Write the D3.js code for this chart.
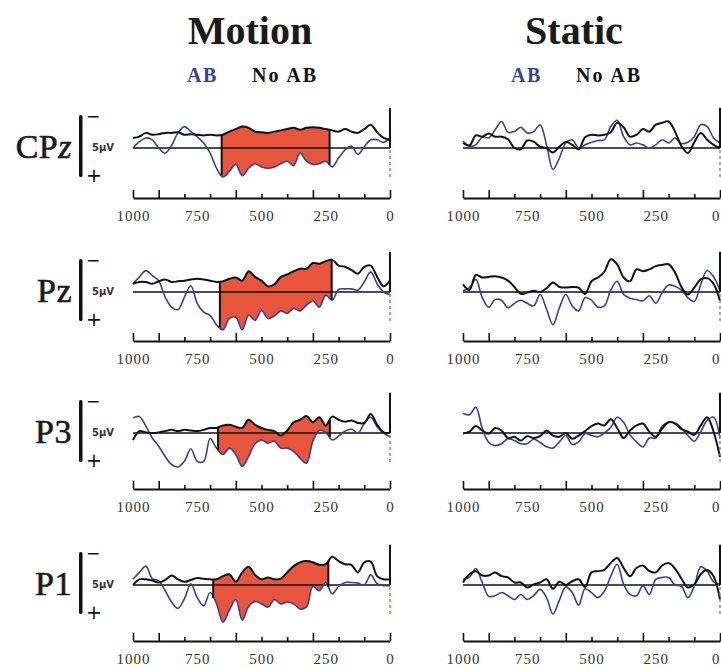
<!DOCTYPE html>
<html>
<head>
<meta charset="utf-8">
<script src="https://cdn.jsdelivr.net/npm/d3@7"></script>
<style>
  body { margin: 0; background: #fff; }
  svg { display: block; }
</style>
</head>
<body>
<div id="chart"></div>
<script>

// sample times in ms before the event, every 25 ms
var sampleTimes = d3.range(1000, -1, -25);

var conditions = ["Motion", "Static"];
var electrodes = ["CPz", "Pz", "P3", "P1"];
var legendLabels = ["AB", "No AB"];
var tickLabels = [1000, 750, 500, 250, 0];
var tickMarks = [1000, 900, 800, 700, 600, 500, 400, 300, 200, 100, 0];
var majorTicks = [1000, 900, 600, 300, 0];

// amplitudes in microvolts (negative plotted up)
var motionCPzAB   = [0, -0.5, -0.8, -0.65, 0, 0.4, -0.2, -1.2, -1.7, -1.3, -0.9, -0.4, 0.4, 1.6, 2.3, 1.85, 1.3, 2.2, 1.6, 1.25, 1.5, 1.6, 1.5, 1.25, 1.05, 1.4, 0.4, 1.05, 1.3, 1.25, 1.05, 1.5, 0.8, 0.15, -0.15, 0.5, -0.1, -0.65, -0.65, -0.45, -0.8];
var motionCPzNoAB = [-0.8, -0.9, -1.2, -1.05, -1.1, -1.2, -1.2, -1.25, -1.05, -1.1, -1.05, -1.0, -1.05, -1.0, -1.05, -1.3, -1.5, -1.7, -1.6, -1.3, -1.25, -1.2, -1.3, -1.4, -1.5, -1.6, -1.45, -1.6, -1.65, -1.6, -1.5, -1.4, -1.3, -1.5, -1.3, -1.2, -1.5, -1.85, -1.25, -0.8, -0.65];
var motionPzAB    = [-0.65, -1.2, -1.7, -1.3, -0.9, 0.4, 1.2, 1.4, 0.4, -0.5, 0.9, 1.6, 1.85, 2.6, 3.0, 2.1, 2.0, 3.0, 1.85, 2.25, 1.45, 2.1, 1.9, 1.5, 1.7, 1.3, 1.5, 1.05, 0.7, 1.2, 0.25, 0.65, -0.2, -0.25, -0.25, -0.15, -0.8, -1.6, -0.65, 0, 0.2];
var motionPzNoAB  = [-0.65, -0.8, -0.8, -0.65, -0.85, -1.0, -0.8, -0.85, -0.9, -1.0, -1.05, -1.0, -0.9, -0.8, -0.85, -1.05, -1.15, -0.9, -1.65, -1.2, -0.9, -0.45, -0.6, -1.2, -1.4, -1.65, -1.85, -1.85, -2.3, -2.25, -2.45, -2.55, -2.1, -2.0, -1.75, -1.45, -2.0, -2.1, -1.2, -0.45, -0.9];
var motionP3AB    = [-1.2, -1.3, -0.55, 0.4, 1.05, 1.85, 2.5, 2.7, 2.25, 1.25, 2.25, 2.25, 0.45, 1.2, 1.7, 1.2, 1.7, 2.65, 1.85, 0.85, 0.55, 0.8, 0.65, 1.2, 1.2, 1.45, 2.0, 2.4, 0.65, -0.2, -0.05, 0.55, 0.25, -0.15, -0.3, 0, -0.75, -1.25, -0.5, 0, 0.3];
var motionP3NoAB  = [0.55, -0.15, -0.05, 0, -0.05, -0.15, -0.25, -0.15, -0.25, -0.2, -0.15, -0.25, -0.4, -0.4, -0.6, -0.65, -0.5, -0.4, -1.05, -0.65, -0.4, -0.25, -0.15, 0.2, -0.2, -0.85, -1.05, -1.35, -0.85, -1.25, -0.6, -1.3, -1.05, -0.9, -1.0, -0.8, -0.8, -1.5, -0.65, -0.05, 0];
var motionP1AB    = [-0.45, -1.0, -1.5, -0.5, -0.35, 0.45, 1.35, 1.85, 1.1, -0.1, 1.0, 1.65, 0.6, 1.5, 2.95, 2.0, 1.15, 2.8, 1.7, 1.3, 1.5, 1.75, 1.15, 1.5, 1.35, 1.5, 1.9, 1.75, 0.1, 0.45, -0.2, 0.7, 0.1, -0.2, -0.2, -0.15, 0, -0.8, -0.1, 0.05, 0.05];
var motionP1NoAB  = [0, -0.45, -0.45, -0.35, -0.2, -0.4, -0.75, -0.45, -0.25, -0.4, -0.55, -0.5, -0.45, -0.45, -0.7, -0.85, -0.25, -1.0, -1.45, -0.8, -0.45, -0.6, -0.45, -0.5, -1.0, -1.5, -1.8, -1.9, -1.8, -1.6, -1.65, -2.25, -1.9, -1.65, -1.6, -1.0, -1.8, -1.85, -0.7, -0.45, -0.45];

var staticCPzAB   = [-0.55, -0.15, -0.25, -0.85, -0.8, -1.45, -2.1, -1.25, -1.3, -1.65, -1.2, -1.3, -1.85, -0.25, 1.7, 0.8, -0.4, -0.65, 0, -0.25, -0.45, -0.6, -0.65, -1.7, -2.2, -0.9, -0.25, -0.4, -0.25, 0, -0.25, -0.65, -0.4, -0.8, -0.35, -0.45, -0.9, -1.85, -1.7, -0.8, -0.4];
var staticCPzNoAB = [-0.4, -0.2, -1.0, -0.9, -1.15, -0.9, -0.9, -0.7, 0, 0.1, -0.6, -0.5, -0.1, 0, 0.35, -0.1, -0.5, -0.25, 0.1, -0.85, -1.05, -1.0, -1.05, -1.25, -2.0, -1.65, -0.9, -1.05, -1.5, -1.3, -1.85, -2.0, -2.1, -1.3, -0.15, 0.4, -0.45, -1.2, -0.65, -0.25, 0];
var staticPzAB    = [-0.1, -0.35, -1.0, 0.45, 1.2, 0.6, 0.65, 1.25, 0.9, 0.65, 0.9, 1.1, 0.2, 1.35, 2.6, 1.25, 0.2, 1.1, 1.5, 0.45, 0.65, 1.2, 1.1, -0.15, -0.85, 0.2, 0.5, 0.6, 0.7, 0.3, 0.9, 0.05, -0.55, -0.45, -0.15, 0.45, 0.75, -0.6, -1.7, -1.2, -0.1];
var staticPzNoAB  = [-0.6, -0.15, -1.35, -1.15, -1.2, -1.25, -1.15, -0.9, -0.4, 0.15, 0.05, -0.1, 0, -0.3, -0.75, -0.4, -0.35, -0.4, -0.35, 0.15, -0.85, -1.15, -1.6, -2.6, -2.2, -1.15, -0.85, -1.8, -1.65, -1.8, -2.05, -2.15, -2.2, -1.55, -0.4, 0.2, -0.35, -1.0, -1.1, -0.65, 0.7];
var staticP3AB    = [-1.55, -1.45, -2.05, -0.35, 0.75, 1.0, 0.85, 0.45, 0.6, 0.85, 0.85, 0.5, 0.75, 1.1, 1.2, 0.7, 0.2, 0.9, 0.7, 0.05, 0.2, 0.3, 0, -0.45, -1.25, -0.85, 0.15, 0.7, 1.1, 0.4, 0.4, -0.55, -0.85, -0.8, -0.4, 0.2, 0.65, -0.1, -1.0, -1.25, 0.45];
var staticP3NoAB  = [0.05, -0.1, -0.55, -0.2, 0.05, -0.4, -0.2, 0.4, 0.3, 0.6, 0.25, 0.4, 0.25, -0.2, 0.2, 0.3, 0, 0.45, 0.2, -0.15, -0.55, -0.75, -0.6, -1.1, -0.4, 0.4, -0.2, -0.6, -0.75, -0.1, 0.3, -0.35, -0.85, -0.75, -0.3, -0.1, 0.15, -0.6, -1.25, -0.1, 1.9];
var staticP1AB    = [-0.45, -0.6, -1.3, -0.2, 0.9, 0.85, 0.6, 0.85, 1.15, 0.75, 1.15, 0.85, 0.35, 1.0, 2.3, 1.2, 0.15, 0.6, 1.6, 0.3, 0.6, 1.0, 0.5, -0.7, -1.65, -0.05, 0.75, 0.85, 0.05, 0.75, -0.45, -0.6, -0.6, 0, 0.1, 1.0, 0.1, -1.45, -1.1, -0.25, -0.05];
var staticP1NoAB  = [-0.2, -0.85, -1.1, -0.75, -0.75, -1.0, -0.7, -0.6, -0.2, -0.2, 0.2, -0.05, -0.2, -0.45, 0.3, -0.25, 0, -0.3, -0.45, 0.15, -1.0, -1.1, -1.2, -1.75, -2.15, -1.35, -0.7, -1.35, -1.55, -1.1, -1.0, -1.55, -1.75, -1.3, -0.5, 0.2, -0.05, -0.85, -1.2, -0.7, 1.15];

// significant window (ms) shaded in the motion condition, one per electrode
var motionFillStart = [655, 662, 669, 688];
var motionFillEnd   = [235, 227, 234, 240];

var series = [
    [[motionCPzAB, motionCPzNoAB], [motionPzAB, motionPzNoAB], [motionP3AB, motionP3NoAB], [motionP1AB, motionP1NoAB]],
    [[staticCPzAB, staticCPzNoAB], [staticPzAB, staticPzNoAB], [staticP3AB, staticP3NoAB], [staticP1AB, staticP1NoAB]]
];

var width = 721, height = 668;
var blue = "#34429a";
var fillRed = "#e8553d";
var serif = "'Liberation Serif', 'Times New Roman', serif";

var colLeft = [133, 463];
var plotWidth = 257;
var titleX = [250, 574];
var rowZero = [148, 292, 433, 585];
var rowAxis = [198, 341, 489, 641];

var svg = d3.select("#chart")
    .append("svg")
    .attr("width", width)
    .attr("height", height);

var defs = svg.append("defs");

function valueAt(arr, t) {
    var k = (1000 - t) / 25;
    var i = Math.floor(k), f = k - i;
    var j = Math.min(i + 1, arr.length - 1);
    return arr[i] * (1 - f) + arr[j] * f;
}

// titles and legends
conditions.forEach(function(name, c) {
    svg.append("text")
        .attr("x", titleX[c])
        .attr("y", 44)
        .attr("text-anchor", "middle")
        .style("font-family", serif)
        .style("font-weight", "bold")
        .style("font-size", "40px")
        .style("fill", "#1a1a1a")
        .text(name);

    svg.append("text")
        .attr("x", titleX[c] - 63)
        .attr("y", 82)
        .style("font-family", serif)
        .style("font-weight", "bold")
        .style("font-size", "20px")
        .style("letter-spacing", "1.5px")
        .style("fill", blue)
        .text(legendLabels[0]);

    svg.append("text")
        .attr("x", titleX[c] + 2)
        .attr("y", 82)
        .style("font-family", serif)
        .style("font-weight", "bold")
        .style("font-size", "20px")
        .style("letter-spacing", "2px")
        .style("fill", "#111")
        .text(legendLabels[1]);
});

// electrode labels and scale bars
electrodes.forEach(function(name, r) {
    var y0 = rowZero[r];
    var lab = svg.append("text")
        .attr("x", 72)
        .attr("y", y0 + 10)
        .attr("text-anchor", "end")
        .style("font-family", serif)
        .style("font-size", "34px")
        .style("letter-spacing", "0.5px")
        .style("fill", "#1a1a1a")
        .style("stroke", "#1a1a1a")
        .style("stroke-width", 0.6);
    if (name === "CPz") {
        lab.append("tspan").text("CP");
        lab.append("tspan").style("font-style", "italic").text("z");
    } else {
        lab.text(name);
    }

    svg.append("rect")
        .attr("x", 79)
        .attr("y", y0 - 33)
        .attr("width", 3.5)
        .attr("height", 62)
        .attr("rx", 1.5)
        .attr("fill", "#111");

    svg.append("text")
        .attr("x", 86)
        .attr("y", y0 - 26)
        .style("font-family", "'DejaVu Sans', sans-serif")
        .style("font-size", "17px")
        .style("fill", "#111")
        .text("\u2212");

    svg.append("text")
        .attr("x", 86)
        .attr("y", y0 + 34)
        .style("font-family", "'DejaVu Sans', sans-serif")
        .style("font-size", "19px")
        .style("fill", "#111")
        .text("+");

    svg.append("text")
        .attr("x", 92)
        .attr("y", y0 + 3)
        .style("font-family", "'DejaVu Sans', sans-serif")
        .style("font-weight", "bold")
        .style("font-size", "10px")
        .style("fill", "#333")
        .text("5\u00b5V");
});

// panels
conditions.forEach(function(cond, c) {
    electrodes.forEach(function(el, r) {
        var ab = series[c][r][0];
        var noAb = series[c][r][1];

        var x = d3.scaleLinear()
            .domain([1000, 0])
            .range([colLeft[c], colLeft[c] + plotWidth]);

        var y = d3.scaleLinear()
            .domain([-2.5, 2.5])
            .range([rowZero[r] - 31.5, rowZero[r] + 31.5]);

        var curve = d3.curveCatmullRom.alpha(0.5);

        var line = d3.line()
            .x(function(d, i) { return x(sampleTimes[i]); })
            .y(function(d) { return y(d); })
            .curve(curve);

        var g = svg.append("g");

        if (c === 0) {
            var t0 = motionFillStart[r], t1 = motionFillEnd[r];
            var clipId = "clip-" + r;
            defs.append("clipPath").attr("id", clipId)
                .append("rect")
                .attr("x", x(t0))
                .attr("y", rowZero[r] - 60)
                .attr("width", x(t1) - x(t0))
                .attr("height", 120);

            var area = d3.area()
                .x(function(d, i) { return x(sampleTimes[i]); })
                .y0(function(d, i) { return y(noAb[i]); })
                .y1(function(d) { return y(d); })
                .curve(curve);

            g.append("path")
                .datum(ab)
                .attr("clip-path", "url(#" + clipId + ")")
                .attr("d", area)
                .attr("fill", fillRed);
        }

        // zero line
        g.append("line")
            .attr("x1", x(1000)).attr("x2", x(0))
            .attr("y1", y(0)).attr("y2", y(0))
            .attr("stroke", "#111")
            .attr("stroke-width", 1.6);

        g.append("path")
            .datum(ab)
            .attr("d", line)
            .attr("fill", "none")
            .attr("stroke", blue)
            .attr("stroke-width", 1.6);

        g.append("path")
            .datum(noAb)
            .attr("d", line)
            .attr("fill", "none")
            .attr("stroke", "#111")
            .attr("stroke-width", 2);

        if (c === 0) {
            [motionFillStart[r], motionFillEnd[r]].forEach(function(t) {
                g.append("line")
                    .attr("x1", x(t)).attr("x2", x(t))
                    .attr("y1", y(valueAt(noAb, t)))
                    .attr("y2", y(valueAt(ab, t)))
                    .attr("stroke", "#111")
                    .attr("stroke-width", 2);
            });
        }

        // event marker at 0 ms
        g.append("line")
            .attr("x1", x(0)).attr("x2", x(0))
            .attr("y1", y(-3.2)).attr("y2", y(0))
            .attr("stroke", "#111")
            .attr("stroke-width", 2);

        g.append("line")
            .attr("x1", x(0)).attr("x2", x(0))
            .attr("y1", y(0.15)).attr("y2", y(2.4))
            .attr("stroke", "#e0503c")
            .attr("stroke-width", 1.3)
            .attr("stroke-dasharray", "3,3");

        // time axis
        var axisG = svg.append("g")
            .attr("transform", "translate(0," + rowAxis[r] + ")");

        axisG.call(d3.axisTop(x)
                .tickValues(tickMarks)
                .tickFormat("")
                .tickSizeInner(4)
                .tickSizeOuter(0));

        axisG.select(".domain")
            .attr("stroke", "#111")
            .attr("stroke-width", 2);

        axisG.selectAll(".tick line")
            .attr("stroke", "#111")
            .attr("stroke-width", 1.6)
            .attr("y2", function(d) { return majorTicks.indexOf(d) >= 0 ? -8 : -4; });

        var labelG = svg.append("g")
            .attr("transform", "translate(0," + rowAxis[r] + ")");

        labelG.call(d3.axisBottom(x)
                .tickValues(tickLabels)
                .tickFormat(d3.format("d"))
                .tickSize(0)
                .tickPadding(12));

        labelG.select(".domain").remove();
        labelG.selectAll(".tick text")
            .style("font-family", serif)
            .style("font-size", "15px")
            .style("letter-spacing", "1px")
            .style("fill", "#333")
            .attr("text-anchor", function(d) {
                // keep the last label inside the page edge
                return (c === 1 && d === 0) ? "end" : "middle";
            });
    });
});

</script>
</body>
</html>
